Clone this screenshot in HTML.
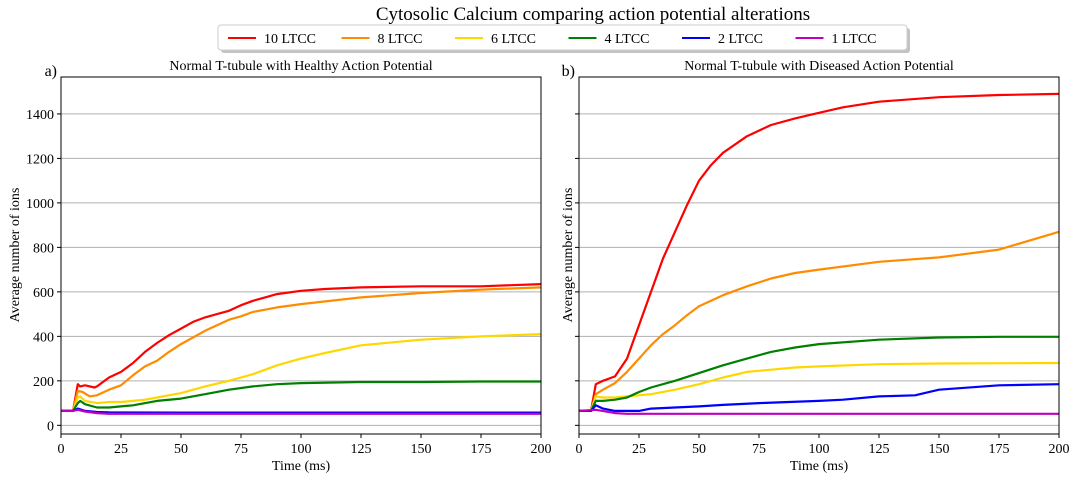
<!DOCTYPE html>
<html><head><meta charset="utf-8"><style>
body{margin:0;background:#fff;}
svg{display:block;font-family:"Liberation Serif",serif;}
</style></head><body>
<svg id="chart" width="1076" height="480"></svg>
<script>
const ticksX=[0,25,50,75,100,125,150,175,200];
const ticksY=[0,200,400,600,800,1000,1200,1400];
const seriesNames=["10 LTCC","8 LTCC","6 LTCC","4 LTCC","2 LTCC","1 LTCC"];
const seriesColors=["#ff0000","#ff8c00","#ffd700","#008000","#0000ff","#bf00bf"];
// Panel a (healthy)
const aRedT=[0,5,7,8,10,14,15,20,25,30,35,40,45,50,55,60,65,70,75,80,85,90,100,110,125,150,175,200];
const aRedV=[65,65,185,175,180,170,175,215,240,280,330,370,405,435,465,485,500,515,540,560,575,590,605,613,620,625,625,635];
const aOrT=[0,5,7,9,12,15,20,25,30,35,40,45,50,55,60,65,70,75,80,90,100,125,150,175,200];
const aOrV=[65,65,155,150,130,135,160,180,225,265,290,330,365,395,425,450,475,490,510,530,545,575,595,610,620];
const aYeT=[0,5,7,8,10,15,20,25,30,35,40,50,60,70,80,90,100,110,125,150,175,200];
const aYeV=[65,65,125,130,110,100,105,105,110,115,125,145,175,200,230,270,300,325,360,385,400,410];
const aGrT=[0,5,7,8,10,15,20,25,30,40,50,60,70,80,90,100,125,150,175,200];
const aGrV=[65,65,100,110,95,80,80,85,90,110,120,140,160,175,185,190,195,195,197,197];
const aBlT=[0,5,7,10,15,20,50,200];
const aBlV=[65,65,75,65,60,58,57,57];
const aMaT=[0,5,7,10,15,20,200];
const aMaV=[65,65,70,62,55,52,52];
// Panel b (diseased)
const bRedT=[0,5,7,10,15,20,25,30,35,40,45,50,55,60,70,75,80,90,100,110,125,150,175,200];
const bRedV=[65,65,185,200,220,300,450,600,750,870,990,1100,1170,1225,1300,1325,1350,1380,1405,1430,1455,1475,1485,1490];
const bOrT=[0,5,7,10,15,20,25,30,35,40,45,50,55,60,70,80,90,100,125,150,175,200];
const bOrV=[65,65,140,160,190,240,300,360,410,450,495,535,560,585,625,660,685,700,735,755,790,870];
const bYeT=[0,5,7,10,15,20,30,40,50,60,70,80,90,100,125,150,200];
const bYeV=[65,65,130,125,125,130,140,160,185,215,240,250,260,265,275,278,280];
const bGrT=[0,5,7,10,15,20,25,30,40,50,60,70,80,90,100,125,150,175,200];
const bGrV=[65,65,110,110,115,125,150,170,200,235,270,300,330,350,365,385,395,398,398];
const bBlT=[0,5,7,10,15,20,25,30,40,50,60,75,100,110,125,140,150,175,200];
const bBlV=[65,65,90,75,65,65,65,75,80,85,92,100,110,115,130,135,160,180,185];
const bMaT=[0,7,15,20,200];
const bMaV=[65,70,55,52,52];

const NS="http://www.w3.org/2000/svg";
const svg=document.getElementById('chart');
function mk(tag,attrs,parent,text){const e=document.createElementNS(NS,tag);for(const k in attrs)e.setAttribute(k,attrs[k]);if(text!==undefined)e.textContent=text;(parent||svg).appendChild(e);return e;}
const Y0=-39,Y1=1566,TOP=77,BOT=434;
function yS(v){return BOT-(v-Y0)/(Y1-Y0)*(BOT-TOP);}
const panels=[
 {x0:61,x1:541,title:"Normal T-tubule with Healthy Action Potential",lab:"a)",data:[[aRedT,aRedV],[aOrT,aOrV],[aYeT,aYeV],[aGrT,aGrV],[aBlT,aBlV],[aMaT,aMaV]],ticks:true,key:"healthy"},
 {x0:579,x1:1059,title:"Normal T-tubule with Diseased Action Potential",lab:"b)",data:[[bRedT,bRedV],[bOrT,bOrV],[bYeT,bYeV],[bGrT,bGrV],[bBlT,bBlV],[bMaT,bMaV]],ticks:false,key:"diseased"}
];
panels.forEach(p=>{
 const g=mk('g',{});
 
 
 const xS=v=>p.x0+v/200*(p.x1-p.x0);
 ticksY.forEach(t=>{
  const l=mk('line',{x1:p.x0,x2:p.x1,y1:yS(t),y2:yS(t),stroke:'#b0b0b0','stroke-width':1},g);
  
  
  mk('line',{x1:p.x0-4,x2:p.x0,y1:yS(t),y2:yS(t),stroke:'#000'},g);
  if(p.ticks){const tx=mk('text',{x:p.x0-7,y:yS(t)+5,'text-anchor':'end','font-size':14},g,String(t));
   }
 });
 ticksX.forEach(t=>{
  mk('line',{x1:xS(t),x2:xS(t),y1:BOT,y2:BOT+4,stroke:'#000'},g);
  const tx=mk('text',{x:xS(t),y:BOT+19,'text-anchor':'middle','font-size':14},g,String(t));
  
 });
 p.data.forEach((d,i)=>{
  const pts=d[0].map((t,j)=>xS(t).toFixed(1)+','+yS(d[1][j]).toFixed(1)).join(' ');
  const pl=mk('polyline',{points:pts,fill:'none',stroke:seriesColors[i],'stroke-width':2.2,'stroke-linejoin':'round'},g);
  
  
 });
 const fr=mk('rect',{x:p.x0,y:TOP,width:p.x1-p.x0,height:BOT-TOP,fill:'none',stroke:'#000','stroke-width':1},g);
 
 const ti=mk('text',{x:(p.x0+p.x1)/2,y:70,'text-anchor':'middle','font-size':14},g,p.title);
 
 const lb=mk('text',{x:p.x0-4,y:76,'text-anchor':'end','font-size':16},g,p.lab);
 
 const xl=mk('text',{x:(p.x0+p.x1)/2,y:470,'text-anchor':'middle','font-size':14},g,'Time (ms)');
 
 const yx=p.ticks?19:572;
 const yl=mk('text',{x:yx,y:255,'text-anchor':'middle','font-size':14,transform:`rotate(-90 ${yx} 255)`},g,'Average number of ions');
 
});
const t=mk('text',{x:593,y:20,'text-anchor':'middle','font-size':19},svg,'Cytosolic Calcium comparing action potential alterations');

const lg=mk('g',{});


mk('rect',{x:221,y:28,width:689,height:25,rx:3,fill:'#888',opacity:0.5},lg);
mk('rect',{x:218,y:25,width:689,height:25,rx:3,fill:'#fff',stroke:'#ccc'},lg);
seriesNames.forEach((n,i)=>{
 const x=228+i*113.5;
 const e=mk('g',{},lg);
 
 
 mk('line',{x1:x,x2:x+28,y1:38,y2:38,stroke:seriesColors[i],'stroke-width':2},e);
 mk('text',{x:x+36,y:43,'font-size':14},e,n);
});
</script>
</body></html>
